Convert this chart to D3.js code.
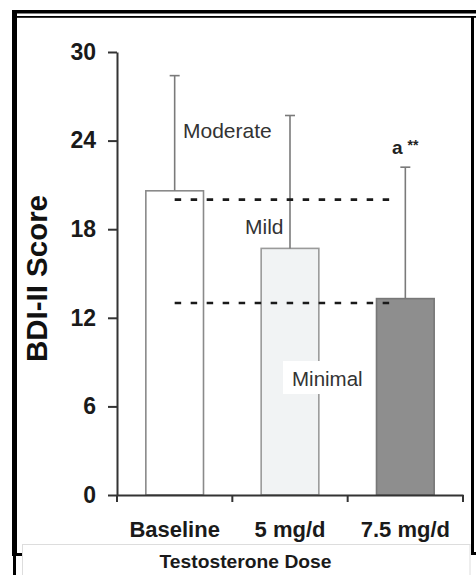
<!DOCTYPE html>
<html>
<head>
<meta charset="utf-8">
<script src="https://cdn.jsdelivr.net/npm/d3@7"></script>
<style>
  html, body { margin: 0; padding: 0; background: #fff; }
  svg { display: block; font-family: "Liberation Sans", Arial, Helvetica, sans-serif; }
</style>
</head>
<body>
<svg id="chart" width="476" height="575"></svg>
<script>
// ---- data ----
const categories = ["Baseline", "5 mg/d", "7.5 mg/d"];
const means = [20.6, 16.7, 13.3];
const errorTops = [28.4, 25.7, 22.2];
const yTicks = [0, 6, 12, 18, 24, 30];
const thresholds = [20, 13];
const zoneLabels = ["Moderate", "Mild", "Minimal"];
const sigLabel = ["a", "**"];
const yTitle = "BDI-II Score";
const xTitle = "Testosterone Dose";

// ---- styles ----
const barFill = ["#ffffff", "#f1f3f4", "#8e8e8e"];
const barStroke = ["#8a8a8a", "#9a9a9a", "#777777"];

const svg = d3.select("#chart");

// ---- frame ----
const frame = svg.append("g").attr("fill", "#000");
frame.append("rect").attr("x", 12).attr("y", 10).attr("width", 464).attr("height", 3.5);
frame.append("rect").attr("x", 17).attr("y", 16).attr("width", 459).attr("height", 1.8);
frame.append("rect").attr("x", 12).attr("y", 10).attr("width", 5).attr("height", 546);
frame.append("rect").attr("x", 12).attr("y", 553).attr("width", 10).attr("height", 3);
frame.append("rect").attr("x", 13).attr("y", 555).attr("width", 3).attr("height", 20);
frame.append("rect").attr("x", 471).attr("y", 16).attr("width", 3).attr("height", 539);
frame.append("rect").attr("x", 471).attr("y", 552).attr("width", 5).attr("height", 3);
svg.append("rect").attr("x", 22.5).attr("y", 544.5).attr("width", 447.5).attr("height", 40)
  .attr("fill", "#fff").attr("stroke", "#dddddd").attr("stroke-width", 1);

// ---- scales ----
const x = d3.scaleBand().domain(categories).range([117, 463]).paddingInner(0.5).paddingOuter(0.25);
const y = d3.scaleLinear().domain([0, 30]).range([495, 52]);
const bw = x.bandwidth();
const step = x.step();
const cx = c => x(c) + bw / 2;

// ---- bars ----
svg.append("g").selectAll("rect").data(categories).join("rect")
  .attr("x", d => x(d))
  .attr("y", (d, i) => y(means[i]))
  .attr("width", bw)
  .attr("height", (d, i) => y(0) - y(means[i]))
  .attr("fill", (d, i) => barFill[i])
  .attr("stroke", (d, i) => barStroke[i])
  .attr("stroke-width", 1.6);

// ---- error bars ----
const eg = svg.append("g").attr("stroke", "#7a7a7a").attr("stroke-width", 1.6);
eg.selectAll("line.v").data(categories).join("line").attr("class", "v")
  .attr("x1", d => cx(d)).attr("x2", d => cx(d))
  .attr("y1", (d, i) => y(means[i])).attr("y2", (d, i) => y(errorTops[i]));
eg.selectAll("line.c").data(categories).join("line").attr("class", "c")
  .attr("x1", d => cx(d) - 5).attr("x2", d => cx(d) + 5)
  .attr("y1", (d, i) => y(errorTops[i])).attr("y2", (d, i) => y(errorTops[i]));

// ---- threshold dashed lines ----
svg.append("g").selectAll("line").data(thresholds).join("line")
  .attr("x1", cx(categories[0]))
  .attr("x2", cx(categories[2]) - 11)
  .attr("y1", d => y(d)).attr("y2", d => y(d))
  .attr("stroke", "#1a1a1a").attr("stroke-width", 2.6)
  .attr("stroke-dasharray", "6.5,9.5");

// ---- zone labels ----
svg.append("text").attr("x", 183).attr("y", 138).attr("font-size", 21).attr("fill", "#333")
  .text(zoneLabels[0]);
svg.append("text").attr("x", 245).attr("y", 234).attr("font-size", 21).attr("fill", "#333")
  .text(zoneLabels[1]);
svg.append("rect").attr("x", 283).attr("y", 361).attr("width", 83).attr("height", 33).attr("fill", "#fff");
svg.append("text").attr("x", 292).attr("y", 386).attr("font-size", 20.5).attr("fill", "#333")
  .text(zoneLabels[2]);

// ---- significance ----
const sig = svg.append("text").attr("x", 392).attr("y", 154).attr("font-weight", "bold").attr("fill", "#222");
sig.append("tspan").attr("font-size", 19).text(sigLabel[0]);
sig.append("tspan").attr("font-size", 14).attr("dx", 5).attr("dy", -4).text(sigLabel[1]);

// ---- y axis ----
const yAxis = svg.append("g").attr("transform", "translate(117,0)")
  .call(d3.axisLeft(y).tickValues(yTicks).tickSize(9).tickPadding(12).tickSizeOuter(0));
yAxis.select(".domain").attr("stroke", "#333").attr("stroke-width", 2);
yAxis.selectAll(".tick line").attr("stroke", "#333").attr("stroke-width", 2);
yAxis.selectAll(".tick text").attr("font-size", 23).attr("font-weight", "bold")
  .attr("fill", "#1a1a1a").attr("font-family", "Liberation Sans, Arial, sans-serif");

// ---- x axis ----
const xAxis = svg.append("g").attr("transform", "translate(0,495)")
  .call(d3.axisBottom(x).tickSize(0).tickPadding(30).tickSizeOuter(0));
xAxis.select(".domain").attr("stroke", "#333").attr("stroke-width", 2);
xAxis.selectAll(".tick text").attr("font-size", 22).attr("font-weight", "bold")
  .attr("fill", "#1a1a1a").attr("font-family", "Liberation Sans, Arial, sans-serif")
  .attr("dy", "0");
// boundary ticks
const bounds = categories.map(c => x(c) - (step - bw) / 2).concat([x(categories[2]) + bw + (step - bw) / 2]);
xAxis.selectAll("line.b").data(bounds).join("line").attr("class", "b")
  .attr("x1", d => d).attr("x2", d => d).attr("y1", 0).attr("y2", 7)
  .attr("stroke", "#333").attr("stroke-width", 2);
xAxis.selectAll(".tick text").attr("y", 42);

// ---- titles ----
svg.append("text").attr("transform", "translate(47,278.5) rotate(-90)")
  .attr("text-anchor", "middle").attr("font-size", 30).attr("font-weight", "bold").attr("fill", "#111")
  .attr("textLength", 167).attr("lengthAdjust", "spacingAndGlyphs")
  .text(yTitle);
svg.append("text").attr("x", 245.5).attr("y", 568).attr("text-anchor", "middle")
  .attr("font-size", 17.5).attr("font-weight", "bold").attr("fill", "#1a1a1a")
  .attr("textLength", 172).attr("lengthAdjust", "spacingAndGlyphs")
  .text(xTitle);
</script>
</body>
</html>
